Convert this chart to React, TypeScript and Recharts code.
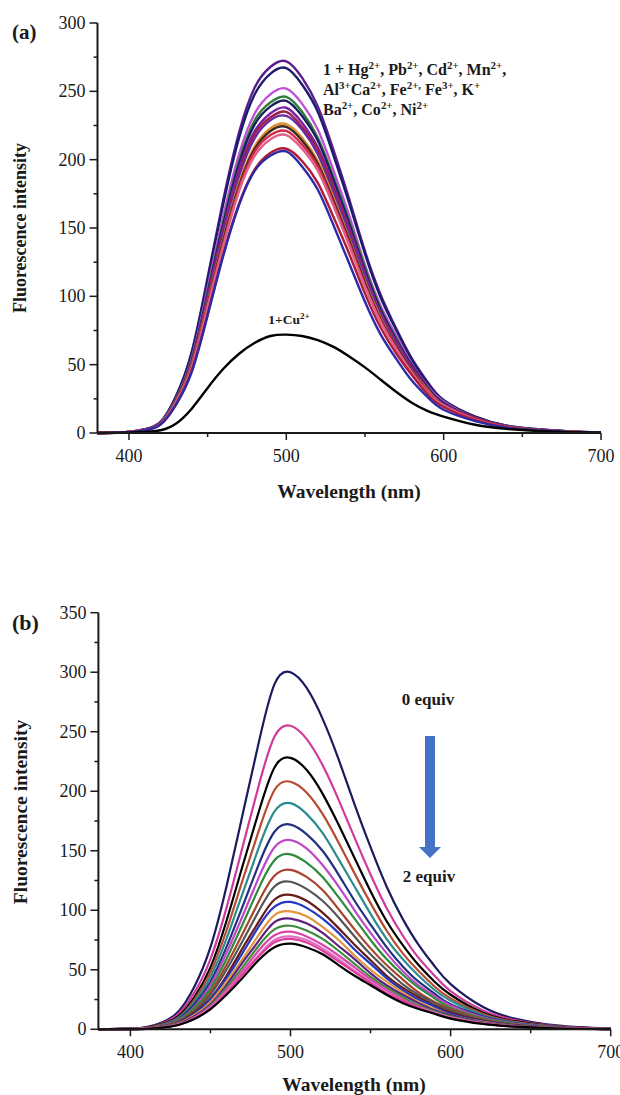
import { LineChart, Line, XAxis, YAxis } from 'recharts';

// wavelength grid (nm)
const wavelengths = [380, 400, 410, 420, 430, 440, 450, 460, 470, 480, 490, 500, 510, 520, 530, 540, 550, 560, 570, 580, 590, 600, 620, 640, 660, 680, 700];

// panel (a): probe 1 + metal ions
const hg = [0, 0.8, 2.7, 8, 27, 60, 114, 171, 220, 253, 268, 272, 260, 239, 207, 171, 133, 101, 76, 54, 37, 24, 12, 5.4, 2.7, 1.1, 0.3];
const pb = [0, 0.8, 2.7, 8, 27, 59, 112, 168, 216, 248, 263, 267, 255, 235, 203, 168, 131, 99, 75, 53, 36, 24, 12, 5.3, 2.7, 1.1, 0.3];
const cd = [0, 0.8, 2.5, 7.6, 25, 55, 106, 159, 204, 234, 248, 252, 241, 222, 192, 159, 123, 93, 71, 50, 34, 23, 11, 5, 2.5, 1, 0.3];
const mn = [0, 0.7, 2.5, 7.4, 25, 54, 103, 155, 199, 229, 242, 246, 235, 216, 187, 155, 121, 91, 69, 49, 33, 22, 11, 4.9, 2.5, 1, 0.2];
const al = [0, 0.7, 2.4, 7.3, 24, 53, 102, 153, 197, 226, 239, 243, 232, 214, 185, 153, 119, 90, 68, 49, 33, 22, 11, 4.9, 2.4, 1, 0.2];
const ca = [0, 0.7, 2.4, 7.1, 24, 52, 100, 150, 193, 221, 234, 238, 227, 209, 181, 150, 117, 88, 67, 48, 32, 21, 11, 4.8, 2.4, 1, 0.2];
const fe2 = [0, 0.7, 2.4, 7.1, 24, 52, 99, 148, 190, 219, 231, 235, 224, 207, 179, 148, 115, 87, 66, 47, 32, 21, 11, 4.7, 2.4, 0.9, 0.2];
const fe3 = [0, 0.7, 2.3, 7, 23, 51, 97, 146, 188, 216, 229, 232, 222, 204, 176, 146, 114, 86, 65, 46, 31, 21, 10, 4.6, 2.3, 0.9, 0.2];
const k = [0, 0.7, 2.3, 6.8, 23, 50, 95, 142, 183, 210, 223, 226, 216, 199, 172, 142, 111, 84, 63, 45, 31, 20, 10, 4.5, 2.3, 0.9, 0.2];
const ba = [0, 0.7, 2.2, 6.7, 22, 49, 94, 141, 181, 208, 221, 224, 214, 197, 170, 141, 110, 83, 63, 45, 30, 20, 10, 4.5, 2.2, 0.9, 0.2];
const co = [0, 0.7, 2.2, 6.6, 22, 49, 93, 139, 179, 206, 218, 221, 211, 195, 168, 139, 108, 82, 62, 44, 30, 20, 9.9, 4.4, 2.2, 0.9, 0.2];
const ni = [0, 0.7, 2.2, 6.5, 22, 48, 92, 137, 177, 203, 215, 218, 208, 192, 166, 137, 107, 81, 61, 44, 29, 20, 9.8, 4.4, 2.2, 0.9, 0.2];
const probe = [0, 0.6, 2.1, 6.2, 21, 46, 87, 131, 168, 193, 205, 208, 199, 183, 158, 131, 102, 77, 58, 42, 28, 19, 9.4, 4.2, 2.1, 0.8, 0.2];
const probeB = [0, 0.6, 2.1, 6.2, 21, 45, 86, 130, 167, 192, 203, 206, 195, 178, 152, 124, 96, 72, 54, 38, 26, 17, 8.7, 3.9, 2, 0.8, 0.2];
const cu = [0, 0.3, 0.8, 2, 7, 18, 33, 47, 58, 66, 71, 72, 71, 68, 63, 56, 48, 39, 30, 22, 16, 12, 6, 3, 1.5, 0.6, 0.2];

const ionSeries = [hg, pb, cd, mn, al, ca, fe2, fe3, k, ba, co, ni, probe, probeB, cu];
const ionColors = ['#5A1E8C', '#1C1C6E', '#C050D8', '#2E7D3A', '#1A1F5E', '#7A22A8', '#A0204A', '#6B2AA0', '#E08C30', '#3D2B1F', '#D42A4A', '#E0608A', '#B01A3A', '#2B2BA8', '#000000'];

// panel (b): titration with Cu2+, 0 -> 2 equiv
const step00 = [0, 0.6, 1.8, 6, 15, 36, 69, 120, 180, 240, 290, 300, 287, 261, 227, 189, 153, 120, 93, 71, 53, 38, 19, 9, 4.2, 1.8, 0.6];
const step01 = [0, 0.5, 1.5, 5.1, 13, 31, 59, 102, 153, 204, 246, 255, 244, 222, 193, 161, 130, 102, 79, 60, 45, 32, 16, 7.7, 3.6, 1.5, 0.5];
const step02 = [0, 0.5, 1.4, 4.6, 11, 27, 52, 91, 137, 182, 220, 228, 218, 198, 172, 144, 116, 91, 71, 54, 40, 29, 14, 6.8, 3.2, 1.4, 0.5];
const step03 = [0, 0.4, 1.2, 4.2, 10, 25, 48, 83, 125, 166, 201, 208, 199, 181, 157, 131, 106, 83, 64, 49, 36, 26, 13, 6.2, 2.9, 1.2, 0.4];
const step04 = [0, 0.4, 1.1, 3.8, 9.5, 23, 44, 76, 114, 152, 183, 190, 181, 165, 143, 120, 97, 76, 59, 45, 33, 24, 12, 5.7, 2.7, 1.1, 0.4];
const step05 = [0, 0.3, 1, 3.4, 8.6, 21, 40, 69, 103, 138, 166, 172, 164, 150, 130, 108, 88, 69, 53, 40, 30, 21, 11, 5.2, 2.4, 1, 0.3];
const step06 = [0, 0.3, 1, 3.2, 8, 19, 37, 64, 95, 127, 153, 159, 152, 138, 120, 100, 81, 64, 49, 37, 28, 20, 10, 4.8, 2.2, 1, 0.3];
const step07 = [0, 0.3, 0.9, 2.9, 7.4, 18, 34, 59, 88, 118, 142, 147, 140, 128, 111, 93, 75, 59, 46, 35, 26, 18, 9.3, 4.4, 2.1, 0.9, 0.3];
const step08 = [0, 0.3, 0.8, 2.7, 6.7, 16, 31, 54, 80, 107, 129, 134, 128, 117, 101, 84, 68, 54, 42, 31, 23, 17, 8.4, 4, 1.9, 0.8, 0.3];
const step09 = [0, 0.2, 0.7, 2.5, 6.2, 15, 29, 50, 74, 99, 120, 124, 118, 108, 94, 78, 63, 50, 38, 29, 22, 15.5, 7.8, 3.7, 1.7, 0.7, 0.2];
const step10 = [0, 0.2, 0.7, 2.3, 5.7, 14, 26, 45, 68, 90, 109, 113, 108, 98, 85, 71, 58, 45, 35, 27, 20, 14, 7.1, 3.4, 1.6, 0.7, 0.2];
const step11 = [0, 0.2, 0.6, 2.1, 5.4, 13, 25, 43, 64, 86, 103, 107, 102, 93, 81, 67, 55, 43, 33, 25, 19, 13, 6.7, 3.2, 1.5, 0.6, 0.2];
const step12 = [0, 0.2, 0.6, 2, 5, 12, 23, 40, 59, 79, 96, 99, 95, 86, 75, 62, 50, 40, 31, 23, 17, 12, 6.2, 3, 1.4, 0.6, 0.2];
const step13 = [0, 0.2, 0.6, 1.9, 4.7, 11, 21, 37, 56, 74, 90, 93, 89, 81, 70, 59, 47, 37, 29, 22, 16, 12, 5.9, 2.8, 1.3, 0.6, 0.2];
const step14 = [0, 0.2, 0.5, 1.7, 4.4, 10, 20, 35, 52, 70, 84, 87, 83, 76, 66, 55, 44, 35, 27, 20, 15, 11, 5.5, 2.6, 1.2, 0.5, 0.2];
const step15 = [0, 0.2, 0.5, 1.6, 4.1, 9.8, 19, 33, 49, 66, 79, 82, 78, 71, 62, 52, 42, 33, 25, 19, 14, 10, 5.2, 2.5, 1.1, 0.5, 0.2];
const step16 = [0, 0.2, 0.5, 1.6, 3.9, 9.4, 18, 31, 47, 62, 75, 78, 75, 68, 59, 49, 40, 31, 24, 18, 14, 9.8, 4.9, 2.3, 1.1, 0.5, 0.2];
const step17 = [0, 0.2, 0.5, 1.5, 3.8, 9.1, 17, 30, 46, 61, 73, 76, 73, 66, 57, 48, 39, 30, 24, 18, 13, 9.5, 4.8, 2.3, 1.1, 0.5, 0.2];
const step18 = [0, 0.1, 0.4, 1.4, 3.6, 8.6, 17, 29, 43, 58, 69, 72, 69, 63, 54, 45, 37, 29, 22, 17, 13, 9, 4.5, 2.2, 1, 0.4, 0.1];

const titration = [step00, step01, step02, step03, step04, step05, step06, step07, step08, step09, step10, step11, step12, step13, step14, step15, step16, step17, step18];
const titrationColors = ['#1B1B5E', '#D03A9A', '#000000', '#B84A30', '#2A8C8C', '#22307E', '#C048C8', '#2E8B3A', '#A8442E', '#555555', '#6B1A1A', '#2438C0', '#E0963C', '#5E2080', '#3C8C3C', '#D848A8', '#E070C0', '#E03C9C', '#000000'];

const xTicks = [400, 450, 500, 550, 600, 650, 700];
const yTicksA = [0, 25, 50, 75, 100, 125, 150, 175, 200, 225, 250, 275, 300];
const yTicksB = [0, 25, 50, 75, 100, 125, 150, 175, 200, 225, 250, 275, 300, 325, 350];

const toRows = (series: number[][]) =>
  wavelengths.map((w, i) => {
    const row: Record<string, number> = { w };
    series.forEach((s, j) => { row['s' + j] = s[i]; });
    return row;
  });

const serif = '"Liberation Serif", "Times New Roman", serif';
const ink = '#1a1a1a';

const XTick = ({ x, y, payload }: any) => {
  const major = payload.value % 100 === 0;
  return (
    <g>
      <line x1={x} x2={x} y1={y} y2={y + (major ? 7 : 4)} stroke={ink} strokeWidth={1.5} />
      {major && (
        <text x={x} y={y + 29} textAnchor="middle" fontSize={18} fontFamily={serif} fill={ink}>{payload.value}</text>
      )}
    </g>
  );
};

const YTick = ({ x, y, payload }: any) => {
  const major = payload.value % 50 === 0;
  return (
    <g>
      <line x1={x} x2={x - (major ? 8 : 4)} y1={y} y2={y} stroke={ink} strokeWidth={1.5} />
      {major && (
        <text x={x - 12} y={y + 6} textAnchor="end" fontSize={18} fontFamily={serif} fill={ink}>{payload.value}</text>
      )}
    </g>
  );
};

const abs = (left: number, top: number, size: number, extra: any = {}) => ({
  position: 'absolute' as const,
  left,
  top,
  fontFamily: serif,
  fontWeight: 'bold' as const,
  fontSize: size,
  color: ink,
  whiteSpace: 'nowrap' as const,
  lineHeight: 1,
  ...extra,
});

const center = { transform: 'translate(-50%, -50%)' };
const vertical = { transform: 'translate(-50%, -50%) rotate(-90deg)' };
const sup = { fontSize: '0.68em', verticalAlign: 'super', lineHeight: 0 };

export default function App() {
  const rowsA = toRows(ionSeries);
  const rowsB = toRows(titration);

  return (
    <div style={{ position: 'absolute', left: 0, top: 0, width: 620, height: 1095, background: '#fff', overflow: 'hidden' }}>
      {/* panel (a) */}
      <div style={{ position: 'absolute', left: 0, top: 0 }}>
        <LineChart width={620} height={520} data={rowsA} margin={{ top: 23, right: 19, bottom: 0, left: 0 }}>
          <XAxis
            dataKey="w"
            type="number"
            domain={[380, 700]}
            ticks={xTicks}
            interval={0}
            height={87}
            tickSize={0}
            tickMargin={0}
            tickLine={false}
            tick={<XTick />}
            axisLine={{ stroke: ink, strokeWidth: 2 }}
          />
          <YAxis
            type="number"
            domain={[0, 300]}
            ticks={yTicksA}
            interval={0}
            width={97.5}
            tickSize={0}
            tickMargin={0}
            tickLine={false}
            tick={<YTick />}
            axisLine={{ stroke: ink, strokeWidth: 2 }}
          />
          {ionSeries.map((_, j) => (
            <Line key={j} dataKey={'s' + j} type="natural" stroke={ionColors[j]} strokeWidth={2.4} dot={false} isAnimationActive={false} />
          ))}
        </LineChart>
      </div>

      <div style={abs(12, 22, 21)}>(a)</div>
      <div style={abs(20, 228, 18, vertical)}>Fluorescence intensity</div>
      <div style={abs(349, 492, 19.5, center)}>Wavelength (nm)</div>
      <div style={abs(323, 60, 16, { lineHeight: '20px' })}>
        <div>1 + Hg<span style={sup}>2+</span>, Pb<span style={sup}>2+</span>, Cd<span style={sup}>2+</span>, Mn<span style={sup}>2+</span>,</div>
        <div>Al<span style={sup}>3+</span>Ca<span style={sup}>2+</span>, Fe<span style={sup}>2+,</span> Fe<span style={sup}>3+</span>, K<span style={sup}>+</span></div>
        <div>Ba<span style={sup}>2+</span>, Co<span style={sup}>2+</span>, Ni<span style={sup}>2+</span></div>
      </div>
      <div style={abs(289, 320, 13.5, center)}>1+Cu<span style={sup}>2+</span></div>

      {/* panel (b) */}
      <div style={{ position: 'absolute', left: 0, top: 560 }}>
        <LineChart width={620} height={535} data={rowsB} margin={{ top: 52.7, right: 9.3, bottom: 0, left: 0 }}>
          <XAxis
            dataKey="w"
            type="number"
            domain={[380, 700]}
            ticks={xTicks}
            interval={0}
            height={65.7}
            tickSize={0}
            tickMargin={0}
            tickLine={false}
            tick={<XTick />}
            axisLine={{ stroke: ink, strokeWidth: 2 }}
          />
          <YAxis
            type="number"
            domain={[0, 350]}
            ticks={yTicksB}
            interval={0}
            width={98.4}
            tickSize={0}
            tickMargin={0}
            tickLine={false}
            tick={<YTick />}
            axisLine={{ stroke: ink, strokeWidth: 2 }}
          />
          {titration.map((_, j) => (
            <Line key={j} dataKey={'s' + j} type="natural" stroke={titrationColors[j]} strokeWidth={2.2} dot={false} isAnimationActive={false} />
          ))}
        </LineChart>
      </div>

      <div style={abs(12, 612, 22)}>(b)</div>
      <div style={abs(21, 812, 19.5, vertical)}>Fluorescence intensity</div>
      <div style={abs(354, 1085, 19.5, center)}>Wavelength (nm)</div>
      <div style={abs(428, 699, 17, center)}>0 equiv</div>
      <div style={abs(429, 876, 17, center)}>2 equiv</div>
      <svg style={{ position: 'absolute', left: 0, top: 0 }} width={620} height={1095} pointerEvents="none">
        <polygon points="425,736 435,736 435,847 441,847 430,858 419,847 425,847" fill="#4472C4" />
      </svg>
    </div>
  );
}
